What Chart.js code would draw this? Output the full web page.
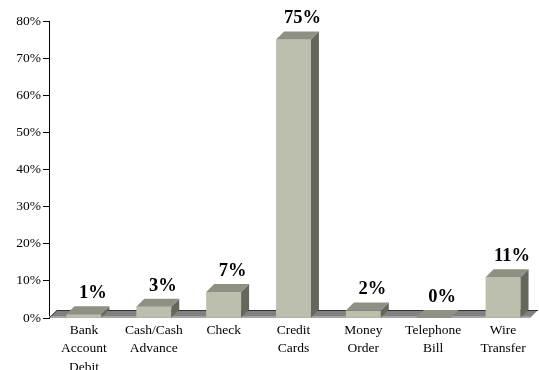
<!DOCTYPE html>
<html>
<head>
<meta charset="utf-8">
<script src="https://cdn.jsdelivr.net/npm/chart.js@4"></script>
<style>
  body { margin: 0; background: #fff; }
  canvas { display: block; }
</style>
</head>
<body>
<canvas id="chart" width="539" height="370"></canvas>
<script>
// payment methods and their share of responses (percent)
var categories = [
  ['Bank', 'Account', 'Debit'],
  ['Cash/Cash', 'Advance'],
  'Check',
  ['Credit', 'Cards'],
  ['Money', 'Order'],
  ['Telephone', 'Bill'],
  ['Wire', 'Transfer']
];
var shares = [1, 3, 7, 75, 2, 0, 11];
var yTicks = [0, 10, 20, 30, 40, 50, 60, 70, 80];

var DEPTH = 8; // pseudo-3d offset in px
var FRONT = '#bcbeae', TOP = '#8e9083', SIDE = '#65675c';

// gray floor slab under the bars
var floorPlugin = {
  id: 'floor',
  beforeDatasetsDraw: function (chart) {
    var ctx = chart.ctx;
    var area = chart.chartArea;
    var y0 = chart.scales.y.getPixelForValue(0);
    var l = area.left, r = area.right - DEPTH;
    ctx.save();
    ctx.fillStyle = '#808080';
    ctx.beginPath();
    ctx.moveTo(l, y0);
    ctx.lineTo(l + DEPTH, y0 - DEPTH);
    ctx.lineTo(r + DEPTH, y0 - DEPTH);
    ctx.lineTo(r, y0);
    ctx.closePath();
    ctx.fill();
    ctx.fillStyle = '#a4a4a4';
    ctx.fillRect(l, y0 - 2, r - l, 2);
    ctx.strokeStyle = '#333';
    ctx.lineWidth = 1;
    ctx.beginPath();
    ctx.moveTo(l, y0);
    ctx.lineTo(l + DEPTH, y0 - DEPTH + 0.5);
    ctx.lineTo(r + DEPTH, y0 - DEPTH + 0.5);
    ctx.stroke();
    ctx.restore();
  }
};

// top and side faces of each bar, plus the value above it
var boxPlugin = {
  id: 'boxes',
  afterDatasetsDraw: function (chart) {
    var ctx = chart.ctx;
    var meta = chart.getDatasetMeta(0);
    ctx.save();
    meta.data.forEach(function (bar, i) {
      var left = bar.x - bar.width / 2;
      var right = bar.x + bar.width / 2;
      var top = bar.y, base = bar.base;

      ctx.fillStyle = SIDE;
      ctx.beginPath();
      ctx.moveTo(right, top);
      ctx.lineTo(right + DEPTH, top - DEPTH);
      ctx.lineTo(right + DEPTH, base - DEPTH);
      ctx.lineTo(right, base);
      ctx.closePath();
      ctx.fill();

      ctx.fillStyle = TOP;
      ctx.beginPath();
      ctx.moveTo(left, top);
      ctx.lineTo(left + DEPTH, top - DEPTH);
      ctx.lineTo(right + DEPTH, top - DEPTH);
      ctx.lineTo(right, top);
      ctx.closePath();
      ctx.fill();

      ctx.fillStyle = '#000';
      ctx.font = 'bold 18.5px "Liberation Serif", serif';
      ctx.textAlign = 'center';
      ctx.textBaseline = 'middle';
      ctx.fillText(shares[i] + '%', bar.x + 9, top - 21);
    });
    ctx.restore();
  }
};

var serif = { family: '"Liberation Serif", serif', size: 13.5, lineHeight: 1.37 };

new Chart(document.getElementById('chart'), {
  type: 'bar',
  data: {
    labels: categories,
    datasets: [{
      data: shares,
      backgroundColor: FRONT,
      borderWidth: 0,
      barPercentage: 0.5,
      categoryPercentage: 1
    }]
  },
  options: {
    responsive: false,
    animation: false,
    layout: { padding: { left: 0, right: 1, top: 21, bottom: 0 } },
    plugins: { legend: { display: false }, tooltip: { enabled: false } },
    scales: {
      x: {
        grid: { display: false, drawTicks: false },
        border: { display: false },
        ticks: { color: '#000', font: serif, padding: 3, maxRotation: 0, autoSkip: false },
        afterFit: function (scale) { scale.height = 52; }
      },
      y: {
        min: 0,
        max: 80,
        afterBuildTicks: function (scale) {
          scale.ticks = yTicks.map(function (v) { return { value: v }; });
        },
        grid: { drawOnChartArea: false, drawTicks: true, tickLength: 6, color: '#000' },
        border: { display: true, color: '#000', width: 1 },
        ticks: {
          color: '#000',
          font: serif,
          padding: 2,
          callback: function (v) { return v + '%'; }
        },
        afterFit: function (scale) { scale.width = 49; }
      }
    }
  },
  plugins: [floorPlugin, boxPlugin]
});
</script>
</body>
</html>
